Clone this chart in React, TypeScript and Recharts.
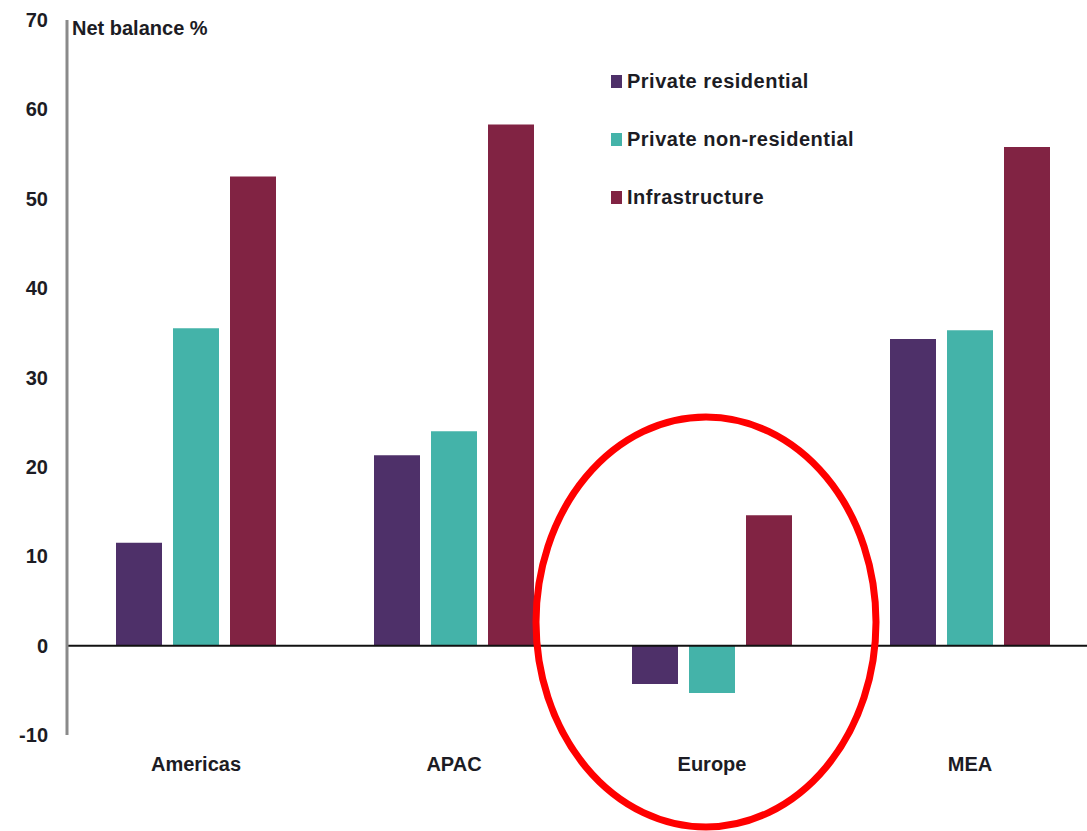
import React from 'react';
import { BarChart, Bar, XAxis, YAxis, ReferenceLine } from 'recharts';

const REGIONS = ['Americas', 'APAC', 'Europe', 'MEA'];
const PRIVATE_RESIDENTIAL = [11.5, 21.3, -4.3, 34.3];
const PRIVATE_NON_RESIDENTIAL = [35.5, 24.0, -5.3, 35.3];
const INFRASTRUCTURE = [52.5, 58.3, 14.6, 55.8];
const Y_TICKS = [-10, 0, 10, 20, 30, 40, 50, 60, 70];

const SERIES = [
  { key: 'residential', name: 'Private residential', color: '#4E3069' },
  { key: 'nonResidential', name: 'Private non-residential', color: '#44B3A9' },
  { key: 'infrastructure', name: 'Infrastructure', color: '#812343' },
];

const data = REGIONS.map((region, i) => ({
  region,
  residential: PRIVATE_RESIDENTIAL[i],
  nonResidential: PRIVATE_NON_RESIDENTIAL[i],
  infrastructure: INFRASTRUCTURE[i],
}));

const FONT = '"Liberation Sans", Arial, sans-serif';
const TEXT = '#1c1c24';

const Legend = () => (
  <div style={{ position: 'absolute', left: 611, top: 52, fontFamily: FONT, fontWeight: 700, fontSize: 20, letterSpacing: 0.5, color: TEXT }}>
    {SERIES.map(s => (
      <div key={s.key} style={{ display: 'flex', alignItems: 'center', height: 58 }}>
        <span style={{ display: 'inline-block', width: 11, height: 13, background: s.color, marginRight: 5 }} />
        <span>{s.name}</span>
      </div>
    ))}
  </div>
);

export default function App() {
  return (
    <div style={{ position: 'fixed', left: 0, top: 0, width: 1087, height: 831, overflow: 'hidden', background: '#fff' }}>
      <BarChart
        width={1100}
        height={831}
        data={data}
        margin={{ top: 20, right: 1, left: 0, bottom: 66 }}
        barSize={46}
        barGap={11}
      >
        <YAxis
          width={67}
          domain={[-10, 70]}
          ticks={Y_TICKS}
          interval={0}
          tickLine={false}
          tickSize={0}
          tickMargin={19}
          axisLine={{ stroke: '#8a8a8a', strokeWidth: 3 }}
          tick={{ fill: TEXT, fontSize: 20, fontWeight: 700, fontFamily: FONT }}
        />
        <XAxis
          dataKey="region"
          height={30}
          axisLine={false}
          tickLine={false}
          tickSize={0}
          tickMargin={22}
          tick={{ fill: TEXT, fontSize: 20, fontWeight: 700, fontFamily: FONT }}
        />
        {SERIES.map(s => (
          <Bar key={s.key} dataKey={s.key} name={s.name} fill={s.color} isAnimationActive={false} />
        ))}
        <ReferenceLine y={0} stroke="#111" strokeWidth={2} />
      </BarChart>
      <div style={{ position: 'absolute', left: 72, top: 17, fontFamily: FONT, fontWeight: 700, fontSize: 20, color: TEXT }}>
        Net balance %
      </div>
      <Legend />
      <svg width={1087} height={831} style={{ position: 'absolute', left: 0, top: 0, pointerEvents: 'none' }}>
        <ellipse cx={706} cy={622} rx={170} ry={205} fill="none" stroke="#ff0000" strokeWidth={7} />
      </svg>
    </div>
  );
}
